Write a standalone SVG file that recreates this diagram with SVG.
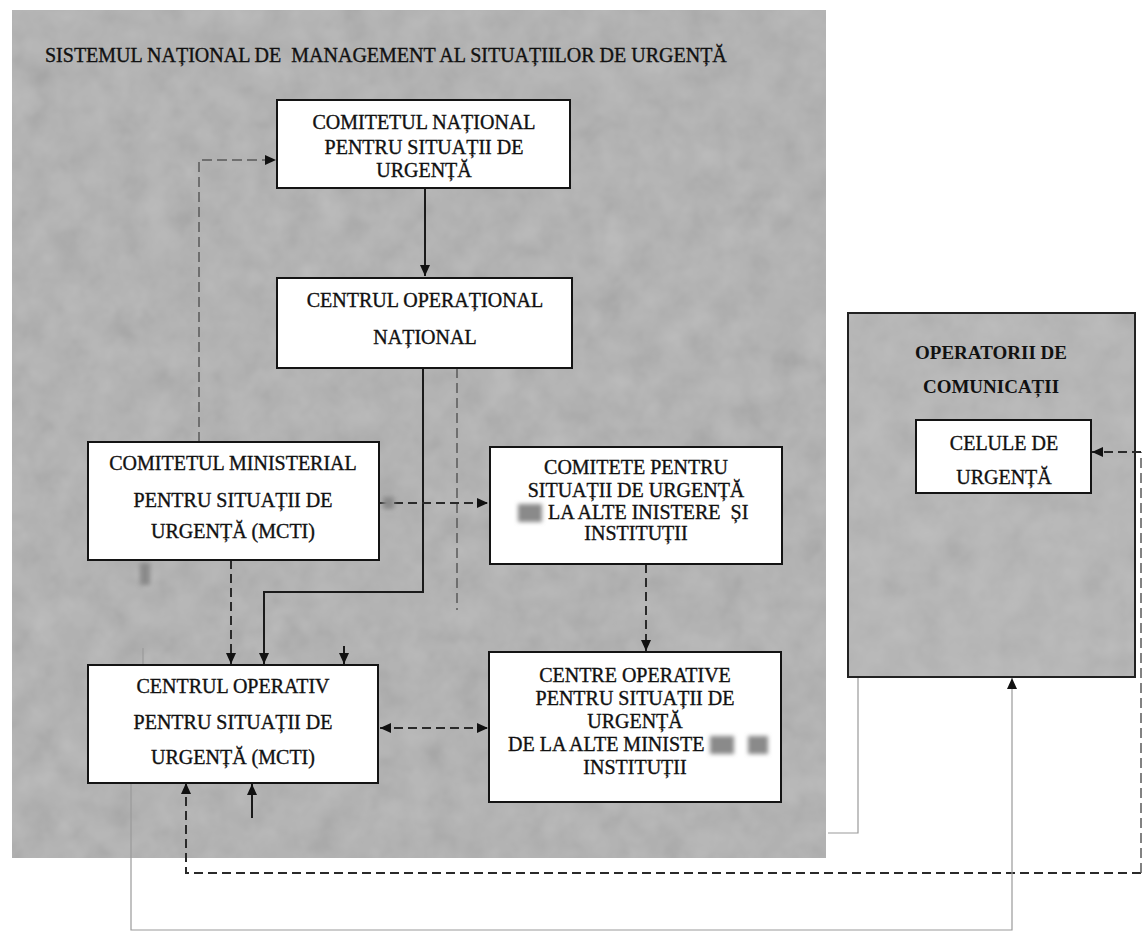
<svg xmlns="http://www.w3.org/2000/svg" width="1144" height="937" viewBox="0 0 1144 937">
<defs>
<style>
.bg{fill:#b1b1b1}
.box{fill:#fff;stroke:#141414;stroke-width:2}
.t{font-family:"Liberation Serif","Times New Roman",serif;font-size:20px;fill:#111;stroke:#111;stroke-width:0.35;text-anchor:middle;white-space:pre}
.tb{font-weight:bold;stroke-width:0}
.solid{fill:none;stroke:#1a1a1a;stroke-width:2}
.dash{fill:none;stroke:#2a2a2a;stroke-width:2;stroke-dasharray:9 5}
.dashf{fill:none;stroke:#5a5a5a;stroke-width:1.5;stroke-dasharray:10 5}
.faint{fill:none;stroke:#9a9a9a;stroke-width:1.2}
.blur{fill:#8a8a8a;filter:url(#soft)}
</style>
<marker id="ah" markerUnits="userSpaceOnUse" markerWidth="12" markerHeight="10" refX="11" refY="5" orient="auto-start-reverse">
<path d="M0,0 L11,5 L0,10 z" fill="#111"/>
</marker>
<filter id="noise" x="0" y="0" width="100%" height="100%">
<feTurbulence type="fractalNoise" baseFrequency="0.035" numOctaves="3" seed="7" result="t"/>
<feColorMatrix in="t" type="matrix" values="0.33 0.33 0.33 0 0 0.33 0.33 0.33 0 0 0.33 0.33 0.33 0 0 0 0 0 0 1" result="g"/>
<feComposite in="g" in2="SourceGraphic" operator="in"/>
</filter>
<filter id="soft" x="-50%" y="-50%" width="200%" height="200%">
<feGaussianBlur stdDeviation="2"/>
</filter>
</defs>
<rect width="1144" height="937" fill="#fff"/>
<g id="panel-snmsu">
<rect class="bg" x="12" y="10" width="814" height="848"/>
<rect x="12" y="10" width="814" height="848" fill="#000" filter="url(#noise)" opacity="0.22"/>
<text class="t" x="45" y="62" style="text-anchor:start">SISTEMUL NAȚIONAL DE  MANAGEMENT AL SITUAȚIILOR DE URGENȚĂ</text>
</g>
<g id="panel-operatori">
<rect x="848" y="313" width="287" height="364" fill="#b6b6b6" stroke="#222" stroke-width="2"/>
<rect x="849" y="314" width="285" height="362" fill="#000" filter="url(#noise)" opacity="0.18"/>
<text class="t tb" x="991" y="359" style="font-size:19px">OPERATORII DE</text>
<text class="t tb" x="991" y="393" style="font-size:19px">COMUNICAȚII</text>
</g>
<g id="connectors">
<path class="solid" d="M425,188 V276" marker-end="url(#ah)"/>
<path class="dashf" d="M199,442 V160 H276" marker-end="url(#ah)"/>
<path class="solid" d="M423,368 V592 H264 V664" marker-end="url(#ah)"/>
<path class="dashf" d="M457,368 V610"/>
<path class="dash" d="M380,503 H488" marker-end="url(#ah)"/>
<path class="dash" d="M231,560 V664" stroke-dasharray="14 3" marker-end="url(#ah)"/>
<path class="solid" d="M344,646 V664" marker-end="url(#ah)"/>
<path class="faint" d="M143,648 V665"/>
<path class="dash" d="M646,564 V651" stroke-dasharray="6 3" marker-end="url(#ah)"/>
<path class="dash" d="M380,728 H488" marker-start="url(#ah)" marker-end="url(#ah)"/>
<path class="dash" d="M186,783 V873 H1141" stroke-width="1.8" marker-start="url(#ah)"/>
<path class="dashf" d="M1141,873 V452" stroke-width="1.2" stroke-dasharray="6 3"/>
<path class="dash" d="M1141,452 H1092" stroke-width="1.8" marker-end="url(#ah)"/>
<path class="solid" d="M252,818 V784" marker-end="url(#ah)"/>
<path class="faint" d="M131,783 V930 H1012 V678" marker-end="url(#ah)"/>
<path class="faint" d="M858,678 V833 H828"/>
<rect class="blur" x="383" y="497" width="11" height="12"/>
<rect class="blur" x="140" y="563" width="10" height="22"/>
</g>
<g id="node-cnsu">
<rect class="box" x="277" y="100" width="293" height="88"/>
<text class="t" x="424" y="129">COMITETUL NAȚIONAL</text>
<text class="t" x="424" y="154">PENTRU SITUAȚII DE</text>
<text class="t" x="424" y="177">URGENȚĂ</text>
</g>
<g id="node-con">
<rect class="box" x="277" y="278" width="295" height="90"/>
<text class="t" x="425" y="307">CENTRUL OPERAȚIONAL</text>
<text class="t" x="425" y="344">NAȚIONAL</text>
</g>
<g id="node-cmsu">
<rect class="box" x="88" y="442" width="291" height="118"/>
<text class="t" x="233" y="470">COMITETUL MINISTERIAL</text>
<text class="t" x="233" y="507">PENTRU SITUAȚII DE</text>
<text class="t" x="233" y="538">URGENȚĂ (MCTI)</text>
</g>
<g id="node-csu-alte">
<rect class="box" x="490" y="447" width="292" height="117"/>
<text class="t" x="636" y="474">COMITETE PENTRU</text>
<text class="t" x="636" y="497">SITUAȚII DE URGENȚĂ</text>
<rect class="blur" x="518" y="504" width="24" height="18"/>
<text class="t" x="548" y="519" style="text-anchor:start">LA ALTE INISTERE  ȘI</text>
<text class="t" x="636" y="540">INSTITUȚII</text>
</g>
<g id="node-cosu">
<rect class="box" x="88" y="665" width="290" height="118"/>
<text class="t" x="233" y="693">CENTRUL OPERATIV</text>
<text class="t" x="233" y="729">PENTRU SITUAȚII DE</text>
<text class="t" x="233" y="764">URGENȚĂ (MCTI)</text>
</g>
<g id="node-co-alte">
<rect class="box" x="489" y="652" width="292" height="150"/>
<text class="t" x="635" y="682">CENTRE OPERATIVE</text>
<text class="t" x="635" y="705">PENTRU SITUAȚII DE</text>
<text class="t" x="635" y="728">URGENȚĂ</text>
<text class="t" x="508" y="751" style="text-anchor:start">DE LA ALTE MINISTE</text>
<rect class="blur" x="710" y="736" width="24" height="18"/>
<rect class="blur" x="748" y="736" width="20" height="18"/>
<text class="t" x="635" y="774">INSTITUȚII</text>
</g>
<g id="node-celule">
<rect class="box" x="916" y="420" width="175" height="73"/>
<text class="t" x="1004" y="450">CELULE DE</text>
<text class="t" x="1004" y="484">URGENȚĂ</text>
</g>
</svg>
